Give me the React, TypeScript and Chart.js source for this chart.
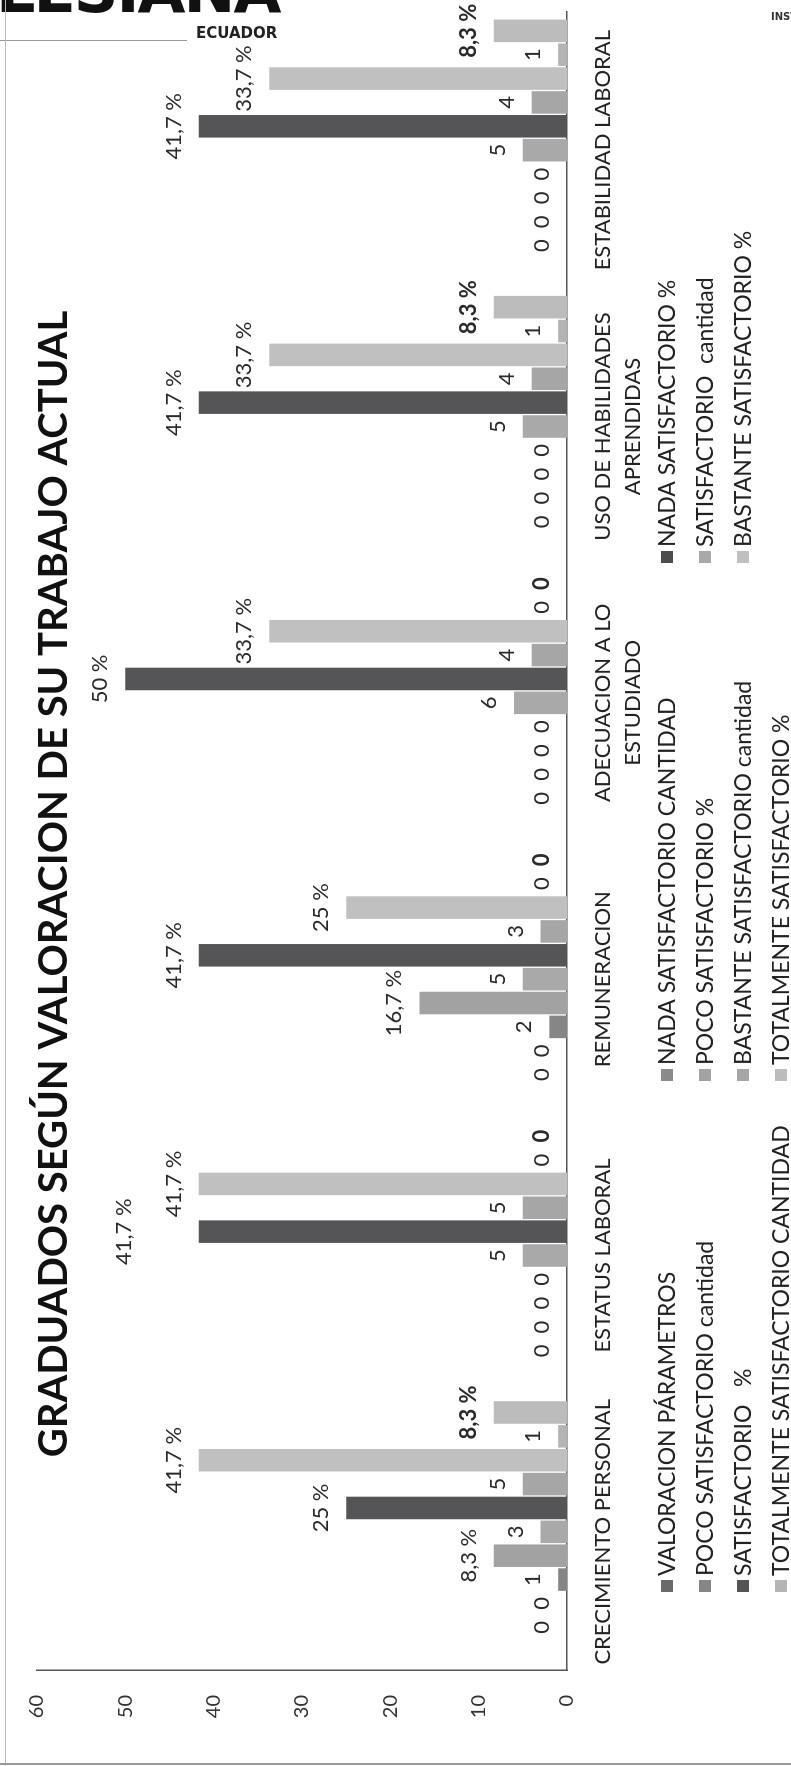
import React, { useEffect, useRef } from "react";
import { Chart, registerables } from "chart.js";

Chart.register(...registerables);

const FAMILY = "Lato, 'Open Sans', sans-serif";

const TITLE = "GRADUADOS SEGÚN VALORACION DE SU TRABAJO ACTUAL";

const CATEGORIES: string[][] = [
  ["CRECIMIENTO PERSONAL"],
  ["ESTATUS LABORAL"],
  ["REMUNERACION"],
  ["ADECUACION A LO", "ESTUDIADO"],
  ["USO DE HABILIDADES", "APRENDIDAS"],
  ["ESTABILIDAD LABORAL"],
];

const SERIES_NAMES = [
  "VALORACION PÁRAMETROS",
  "NADA SATISFACTORIO CANTIDAD",
  "NADA SATISFACTORIO %",
  "POCO SATISFACTORIO cantidad",
  "POCO SATISFACTORIO %",
  "SATISFACTORIO  cantidad",
  "SATISFACTORIO   %",
  "BASTANTE SATISFACTORIO cantidad",
  "BASTANTE SATISFACTORIO %",
  "TOTALMENTE SATISFACTORIO CANTIDAD",
  "TOTALMENTE SATISFACTORIO %",
];

const SERIES_COLORS = [
  "#6a6a6a",
  "#8a8a8a",
  "#4d4d4d",
  "#868686",
  "#a2a2a2",
  "#a9a9a9",
  "#555457",
  "#a6a6a6",
  "#c0c0c0",
  "#b4b4b4",
  "#bcbcbc",
];

// which series are percentages (label gets " %")
const IS_PERCENT = [false, false, true, false, true, false, true, false, true, false, true];

const VALORACION_PARAMETROS: (number | null)[] = [null, null, null, null, null, null];
const NADA_CANTIDAD = [0, 0, 0, 0, 0, 0];
const NADA_PCT = [0, 0, 0, 0, 0, 0];
const POCO_CANTIDAD = [1, 0, 2, 0, 0, 0];
const POCO_PCT = [8.3, 0, 16.7, 0, 0, 0];
const SATISF_CANTIDAD = [3, 5, 5, 6, 5, 5];
const SATISF_PCT = [25, 41.7, 41.7, 50, 41.7, 41.7];
const BASTANTE_CANTIDAD = [5, 5, 3, 4, 4, 4];
const BASTANTE_PCT = [41.7, 41.7, 25, 33.7, 33.7, 33.7];
const TOTAL_CANTIDAD = [1, 0, 0, 0, 1, 1];
const TOTAL_PCT = [8.3, 0, 0, 0, 8.3, 8.3];

const SERIES_DATA: (number | null)[][] = [
  VALORACION_PARAMETROS,
  NADA_CANTIDAD,
  NADA_PCT,
  POCO_CANTIDAD,
  POCO_PCT,
  SATISF_CANTIDAD,
  SATISF_PCT,
  BASTANTE_CANTIDAD,
  BASTANTE_PCT,
  TOTAL_CANTIDAD,
  TOTAL_PCT,
];

const Y_MIN = 0;
const Y_MAX = 60;
const Y_STEP = 10;

// extra lift (px) for a label moved by hand in the original
const LABEL_LIFT: Record<string, number> = { "6:1": 50 };

function formatLabel(i: number, v: number): string {
  if (!IS_PERCENT[i] || v === 0) return String(v);
  return String(v).replace(".", ",") + " %";
}

const W = 1766;
const H = 791;

const overlayPlugin = {
  id: "overlay",
  afterDatasetsDraw(chart: any) {
    const ctx = chart.ctx as CanvasRenderingContext2D;
    ctx.save();
    ctx.textAlign = "center";
    ctx.textBaseline = "alphabetic";
    ctx.fillStyle = "#2a2a2a";
    chart.data.datasets.forEach((ds: any, i: number) => {
      if (i === 0) return;
      const meta = chart.getDatasetMeta(i);
      ctx.font = `${i === 10 ? "bold " : ""}22px ${FAMILY}`;
      meta.data.forEach((bar: any, j: number) => {
        const v = ds.data[j];
        if (v == null) return;
        const lift = LABEL_LIFT[`${i}:${j}`] || 0;
        ctx.fillText(formatLabel(i, v), bar.x, bar.y - 18 - lift);
      });
    });
    ctx.restore();
  },
  afterDraw(chart: any) {
    const ctx = chart.ctx as CanvasRenderingContext2D;
    ctx.save();
    // title
    ctx.font = `bold 40px ${FAMILY}`;
    ctx.fillStyle = "#111";
    ctx.textAlign = "center";
    ctx.textBaseline = "alphabetic";
    ctx.fillText(TITLE, 882, 67);
    // legend (3 columns x 4 rows)
    const colX = [180, 691, 1209];
    const rowY = [667, 705, 743, 781];
    ctx.font = `23px ${FAMILY}`;
    ctx.textAlign = "left";
    SERIES_NAMES.forEach((name, i) => {
      const r = Math.floor(i / 3);
      const c = i % 3;
      const x = colX[c];
      const y = rowY[r];
      ctx.fillStyle = SERIES_COLORS[i];
      ctx.fillRect(x - 6, y - 6, 12, 12);
      ctx.fillStyle = "#222";
      ctx.fillText(name, x + 10, y + 8);
    });
    ctx.restore();
  },
};

function BarChart() {
  const ref = useRef<HTMLCanvasElement | null>(null);
  useEffect(() => {
    if (!ref.current) return;
    const chart = new Chart(ref.current, {
      type: "bar",
      data: {
        labels: CATEGORIES,
        datasets: SERIES_DATA.map((d, i) => ({
          label: SERIES_NAMES[i],
          data: d,
          backgroundColor: SERIES_COLORS[i],
          borderWidth: 0,
          categoryPercentage: 0.95,
          barPercentage: 0.945,
        })),
      },
      options: {
        responsive: false,
        animation: false,
        devicePixelRatio: 1,
        layout: { padding: { top: 22, right: 12, left: 0, bottom: 0 } },
        plugins: {
          legend: { display: false },
          title: { display: false },
          tooltip: { enabled: false },
        },
        scales: {
          x: {
            grid: { display: false, drawTicks: false },
            border: { display: true, color: "#555", width: 1.5 },
            ticks: {
              font: { size: 22, family: FAMILY, lineHeight: 1.35 },
              color: "#222",
              padding: 21,
              autoSkip: false,
              maxRotation: 0,
              minRotation: 0,
            },
            afterFit: (s: any) => {
              s.height = 224;
            },
          },
          y: {
            min: Y_MIN,
            max: Y_MAX,
            grid: { display: false, drawTicks: false },
            border: { display: true, color: "#555", width: 1.5 },
            ticks: {
              stepSize: Y_STEP,
              font: { size: 20, family: FAMILY },
              color: "#333",
              padding: 25,
            },
            afterFit: (s: any) => {
              s.width = 96;
            },
          },
        },
      } as any,
      plugins: [overlayPlugin],
    });
    return () => chart.destroy();
  }, []);
  return <canvas ref={ref} width={W} height={H} style={{ width: W, height: H, display: "block" }} />;
}

export default function App() {
  return (
    <div
      style={{
        position: "absolute",
        left: 0,
        top: 0,
        width: 791,
        height: 1766,
        overflow: "hidden",
        background: "#fff",
        fontFamily: "'DejaVu Sans', sans-serif",
      }}
    >
      <div
        style={{
          position: "absolute",
          left: 0,
          top: 0,
          width: W,
          height: H,
          transformOrigin: "0 0",
          transform: `translate(0px, ${W}px) rotate(-90deg)`,
        }}
      >
        <BarChart />
      </div>
      {/* scan decorations */}
      <div style={{ position: "absolute", left: -4, top: -40, fontSize: 62, fontWeight: 900, letterSpacing: -2, color: "#111", lineHeight: "62px" }}>
        LESIANA
      </div>
      <div style={{ position: "absolute", left: 0, top: 40, width: 187, height: 1, background: "#999" }} />
      <div style={{ position: "absolute", left: 196, top: 25, fontSize: 15, fontWeight: 700, color: "#222", lineHeight: "17px" }}>
        ECUADOR
      </div>
      <div style={{ position: "absolute", left: 771, top: 11, fontSize: 10, fontWeight: 700, color: "#333", lineHeight: "11px" }}>
        INST
      </div>
      <div style={{ position: "absolute", left: 5, top: 0, width: 1, height: 1766, background: "#bbb" }} />
      <div style={{ position: "absolute", left: 0, top: 1763, width: 791, height: 2, background: "#999" }} />
    </div>
  );
}
